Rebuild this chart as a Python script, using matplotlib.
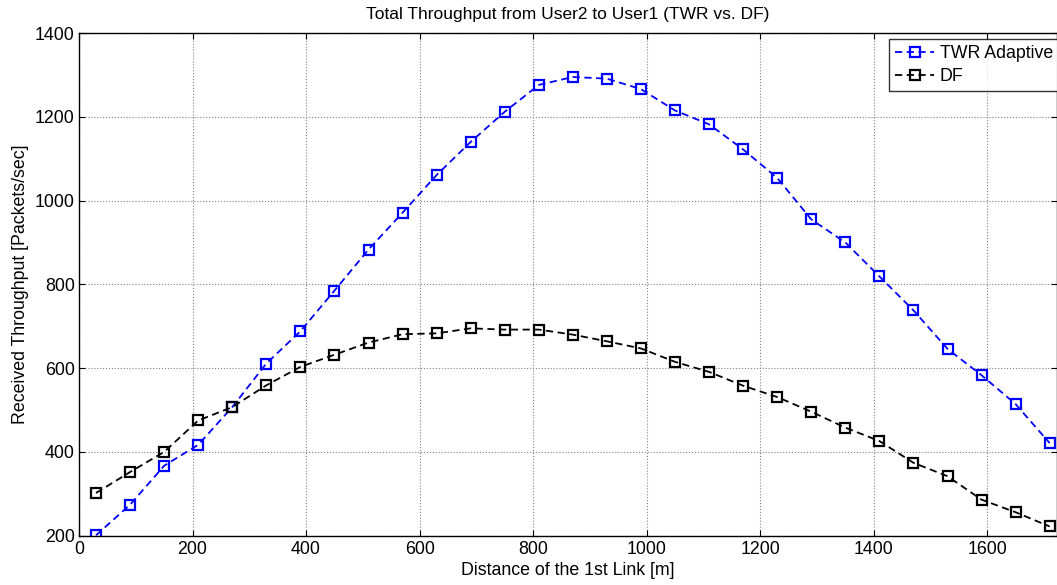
import matplotlib
matplotlib.use("Agg")
import matplotlib.pyplot as plt

plt.rcParams['font.family'] = ['Liberation Sans', 'DejaVu Sans']

distance = [30, 90, 150, 210, 270, 330, 390, 450, 510, 570, 630, 690, 750, 810,
            870, 930, 990, 1050, 1110, 1170, 1230, 1290, 1350, 1410, 1470, 1530,
            1590, 1650, 1710]
twr_adaptive = [201, 274, 367, 417, 507, 611, 688, 785, 883, 971, 1061, 1140,
                1212, 1276, 1295, 1291, 1266, 1215, 1182, 1122, 1054, 955, 900,
                819, 738, 646, 583, 514, 421]
df = [302, 352, 400, 475, 507, 559, 603, 632, 661, 681, 683, 695, 692, 692,
      680, 664, 647, 615, 591, 558, 531, 496, 458, 426, 374, 342, 286, 256, 222]
xticks = [0, 200, 400, 600, 800, 1000, 1200, 1400, 1600]
yticks = [200, 400, 600, 800, 1000, 1200, 1400]

FS = 12.8
W, H = 1057, 585
fig = plt.figure(figsize=(W / 100, H / 100), dpi=100)
ax = fig.add_axes([79 / W, 1 - 535.7 / H, (1056.5 - 79) / W, (535.7 - 33) / H])

ax.plot(distance, twr_adaptive, linestyle='--', color='#0000ff', marker='s',
        markersize=7.5, markerfacecolor='none', markeredgewidth=1.6, linewidth=1.3,
        label='TWR Adaptive', dashes=(4, 2.5))
ax.plot(distance, df, linestyle='--', color='black', marker='s',
        markersize=7.5, markerfacecolor='none', markeredgewidth=1.6, linewidth=1.3,
        label='DF', dashes=(4, 2.5))

ax.set_xlim(0, 1722)
ax.set_ylim(200, 1400)
ax.set_xticks(xticks)
ax.set_yticks(yticks)
ax.tick_params(direction='in', top=True, right=True, labelsize=FS, length=4, pad=3)
ax.tick_params(axis='x', pad=4)
ax.grid(True, linestyle=':', color='#808080', linewidth=0.8)
for s in ax.spines.values():
    s.set_linewidth(1.0)

ax.set_title('Total Throughput from User2 to User1 (TWR vs. DF)', fontsize=12.5, pad=10)
ax.set_xlabel('Distance of the 1st Link [m]', fontsize=FS, labelpad=3)
ax.set_ylabel('Received Throughput [Packets/sec]', fontsize=FS, labelpad=4)

leg = fig.legend(loc='upper left', bbox_to_anchor=(889 / W, 1 - 38.7 / H),
                 fontsize=FS, frameon=True, fancybox=False, borderpad=0.35,
                 handlelength=2.2, handletextpad=0.3, labelspacing=0.35,
                 borderaxespad=0)
leg.get_frame().set_edgecolor('black')
leg.get_frame().set_linewidth(1.0)

fig.savefig('out.png', dpi=100)
